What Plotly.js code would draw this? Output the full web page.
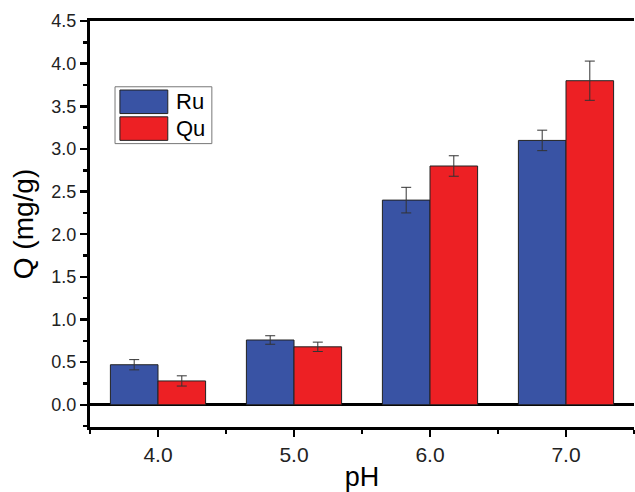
<!DOCTYPE html>
<html>
<head>
<meta charset="utf-8">
<script src="https://cdn.plot.ly/plotly-3.0.1.min.js"></script>
<style>html,body{margin:0;padding:0;background:#fff;}#chart{width:635px;height:492px;}</style>
</head>
<body>
<div id="chart"></div>
<script>
const phValues = [4.0, 5.0, 6.0, 7.0];
const ruValues = [0.47, 0.76, 2.40, 3.10];
const ruErrors = [0.06, 0.05, 0.15, 0.12];
const quValues = [0.28, 0.68, 2.80, 3.80];
const quErrors = [0.06, 0.055, 0.12, 0.23];
const seriesNames = ['Ru', 'Qu'];
const seriesColors = ['#3953A4', '#ED2024'];

const font = 'Liberation Sans, Arial, sans-serif';

function barTrace(name, y, err, color) {
  return {
    type: 'bar', name: name, x: phValues, y: y,
    marker: {color: color, line: {color: '#222', width: 1}},
    error_y: {type: 'data', array: err, visible: true, color: '#333', thickness: 1, width: 5},
    showlegend: false
  };
}

const data = [
  barTrace(seriesNames[0], ruValues, ruErrors, seriesColors[0]),
  barTrace(seriesNames[1], quValues, quErrors, seriesColors[1])
];

// custom legend (swatches in paper coords)
const shapes = [
  {type: 'rect', xref: 'paper', yref: 'paper', x0: 0.046, x1: 0.224, y0: 0.698, y1: 0.838,
   line: {color: '#777', width: 1}, fillcolor: 'rgba(0,0,0,0)'}
];
const annotations = [];
seriesNames.forEach((n, i) => {
  const top = 0.830 - i * 0.066;
  shapes.push({type: 'rect', xref: 'paper', yref: 'paper', x0: 0.055, x1: 0.143,
    y0: top - 0.058, y1: top, fillcolor: seriesColors[i], line: {color: '#222', width: 1}});
  annotations.push({xref: 'paper', yref: 'paper', x: 0.154, y: top - 0.029, text: n,
    showarrow: false, xanchor: 'left', yanchor: 'middle', font: {family: font, size: 22, color: '#000'}});
});

const layout = {
  width: 635, height: 492,
  margin: {l: 90, r: 1, t: 21, b: 65},
  paper_bgcolor: '#fff', plot_bgcolor: '#fff',
  barmode: 'group', bargap: 0.3, bargroupgap: 0,
  font: {family: font, color: '#000'},
  xaxis: {
    range: [3.5, 7.5], tickvals: phValues, tickformat: '.1f',
    ticks: 'outside', ticklen: 7, tickwidth: 2.5, tickcolor: '#000',
    minor: {dtick: 0.5, tick0: 3.5, ticks: 'outside', ticklen: 4, tickwidth: 2.5, tickcolor: '#000'},
    showline: true, linewidth: 3, linecolor: '#000', mirror: true,
    showgrid: false, zeroline: false,
    ticklabelstandoff: 0,
    tickfont: {family: font, size: 21, color: '#222'},
    title: {text: 'pH', font: {family: font, size: 27, color: '#000'}, standoff: 4}
  },
  yaxis: {
    range: [-0.26, 4.5], dtick: 0.5, tick0: 0, tickformat: '.1f',
    ticks: 'outside', ticklen: 7, tickwidth: 2.5, tickcolor: '#000',
    minor: {dtick: 0.25, ticks: 'outside', ticklen: 4, tickwidth: 2.5, tickcolor: '#000'},
    showline: true, linewidth: 3, linecolor: '#000',
    showgrid: false, zeroline: true, zerolinecolor: '#000', zerolinewidth: 3,
    ticklabelstandoff: 0,
    tickfont: {family: font, size: 18, color: '#222'},
    title: {text: 'Q (mg/g)', font: {family: font, size: 28, color: '#000'}, standoff: 10}
  },
  shapes: shapes,
  annotations: annotations
};

Plotly.newPlot('chart', data, layout, {staticPlot: true});
</script>
</body>
</html>
